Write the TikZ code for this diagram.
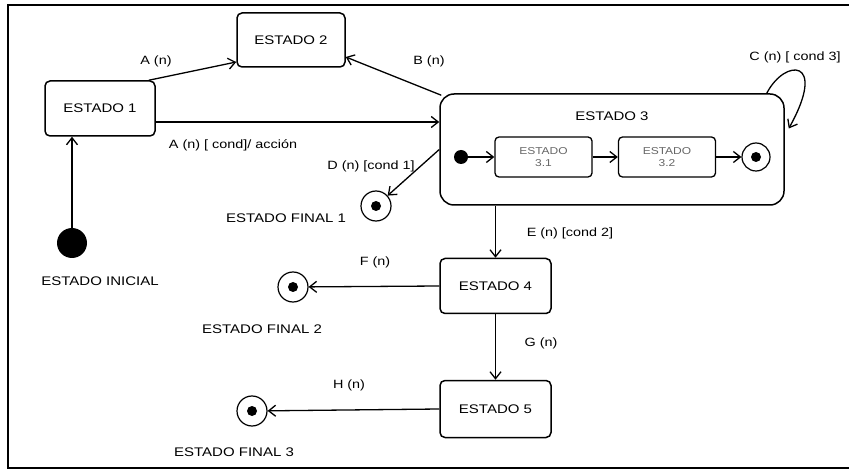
\documentclass[tikz,border=0pt]{standalone}
\usepackage{fontspec}
\setmainfont{Liberation Sans}[FakeStretch=1.2]
\usetikzlibrary{arrows.meta}
\begin{document}
\begin{tikzpicture}[x=1pt,y=-1pt,
  statebox/.style={draw, line width=1.5pt, rounded corners=5pt, inner sep=0pt,
    minimum width=110pt, minimum height=55pt, font=\fontsize{12.5}{14}\selectfont},
  substate/.style={draw, line width=1.3pt, rounded corners=4pt, inner sep=0pt,
    minimum width=97pt, minimum height=40pt, font=\fontsize{10}{12}\selectfont,
    text=black!60, align=center},
  tr/.style={line width=1.3pt, -{Straight Barb[length=7pt,width=11pt]}},
  lbl/.style={font=\fontsize{12}{14}\selectfont, inner sep=0pt},
  initst/.style={circle, fill=black, inner sep=0pt, minimum size=#1},
  finalst/.style={circle, draw, line width=1.2pt, minimum size=#1, inner sep=0pt,
    path picture={\fill (path picture bounding box.center) circle (5pt);}}
]
\useasboundingbox (0,0) rectangle (849,470);
% page frame (open on the right)
\draw[line width=1.2pt] (849,5) -- (8,5) -- (8,468) -- (849,468);

% top-level states
\node[statebox] (e1) at (100,108.5) {ESTADO 1};
\node[statebox, minimum width=108pt, minimum height=54pt] (e2) at (291,40) {ESTADO 2};
\node[statebox, rounded corners=14pt, minimum width=344pt, minimum height=111pt] (e3) at (612,149.5) {};
\node[lbl, font=\fontsize{12.5}{14}\selectfont] (e3t) at (612,116) {ESTADO 3};
\node[statebox, minimum width=111pt] (e4) at (495.5,286) {ESTADO 4};
\node[statebox, minimum width=111pt, minimum height=57pt] (e5) at (495.5,409) {ESTADO 5};

% nested states of ESTADO 3
\node[initst=14pt] (i0) at (461,157) {};
\node[substate] (s1) at (543.5,157) {ESTADO\\3.1};
\node[substate] (s2) at (667,157) {ESTADO\\3.2};
\node[finalst=28pt] (f0) at (756,157) {};

% initial and final pseudo-states
\node[initst=30pt] (ini) at (72,243) {};
\node[finalst=30pt] (f1) at (376,206) {};
\node[finalst=30pt] (f2) at (293,287) {};
\node[finalst=30pt] (f3) at (252,411) {};

% state names under pseudo-states
\node[lbl, font=\fontsize{12.5}{14}\selectfont] (tini) at (100,281) {ESTADO INICIAL};
\node[lbl, font=\fontsize{12.5}{14}\selectfont] (tf1) at (286,218) {ESTADO FINAL 1};
\node[lbl, font=\fontsize{12.5}{14}\selectfont] (tf2) at (262,329) {ESTADO FINAL 2};
\node[lbl, font=\fontsize{12.5}{14}\selectfont] (tf3) at (234,452) {ESTADO FINAL 3};

% transitions
\draw[tr] (ini.north) -- (ini.north |- e1.south);
\draw[tr] ([xshift=-7pt]e1.north east) -- ([yshift=-22pt]e2.west);
\draw[tr] ([xshift=2pt,yshift=-2pt]e3.north west) -- ([yshift=-17pt]e2.east);
\draw[tr] ([yshift=-13.5pt]e1.east) coordinate (a1) -- (a1 -| e3.west);
\draw[tr] (e3.west) -- (f1);
\draw[tr] ([xshift=-18pt]e3.north east) .. controls (785,58) and (828,58) .. ([xshift=4pt,yshift=21pt]e3.east);
\draw[tr] (e4.north |- e3.south) -- (e4.north);
\draw[tr] (e4.west) -- (f2);
\draw[tr] (e4.south) -- (e5.north);
\draw[tr] (e5.west) -- (f3);
\draw[tr] (i0) -- (s1);
\draw[tr] (s1) -- (s2);
\draw[tr] (s2) -- (f0);

% transition labels
\node[lbl] (la1) at (156,61) {A (n)};
\node[lbl] (lb) at (429,61) {B (n)};
\node[lbl] (la2) at (233,145) {A (n) [ cond]/ acción};
\node[lbl] (ld) at (371,166) {D (n) [cond 1]};
\node[lbl] (lc) at (795,57) {C (n) [ cond 3]};
\node[lbl] (le) at (570,233) {E (n) [cond 2]};
\node[lbl] (lf) at (375,262) {F (n)};
\node[lbl] (lg) at (541,343) {G (n)};
\node[lbl] (lh) at (349,385) {H (n)};
\end{tikzpicture}
\end{document}
